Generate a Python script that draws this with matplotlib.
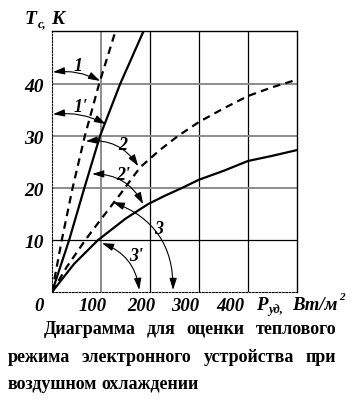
import numpy as np
import matplotlib.pyplot as plt

# curves: P (W/m^2) vs T (K)
p_1d = [0, 20, 42, 67, 96, 129]          # steep dashed
t_1d = [0, 10, 20, 30, 40, 50]
p_1s = [0, 35, 66, 98, 139, 186]         # steep solid
t_1s = [0, 10, 20, 30, 40, 50]
p_2d = [0, 30, 68, 100, 140, 180, 220, 257, 300, 350, 400, 450, 495]
t_2d = [0, 4.8, 10, 14.0, 18.9, 24.0, 27.3, 30.0, 32.7, 35.3, 37.7, 39.4, 40.7]
p_3s = [0, 45, 94, 150, 196, 230, 265, 300, 350, 400, 450, 500]
t_3s = [0, 5.4, 10, 14.1, 16.9, 18.5, 20.0, 21.6, 23.3, 25.2, 26.2, 27.3]

# annotation arcs: label, start, end, label position, bend
arrows = [
    ("1",  (2, 42.3), (98, 40.6), (54, 43.6), -0.15),
    ("1'", (2, 34.2), (110, 32.3), (58, 35.6), -0.15),
    ("2",  (69, 29.0), (176, 24.2), (144, 28.3), -0.3),
    ("2'", (82, 22.7), (186, 16.9), (146, 22.6), -0.3),
    ("3",  (124, 17.3), (247, 0.4), (217, 12.2), -0.35),
    ("3'", (102, 9.4), (178, 0.4), (172, 7.0), -0.3),
]

xlabels = ["0", "100", "200", "300", "400"]
xlabel_pos = [-27, 82, 182, 271, 365]

caption = [
    "Диаграмма для оценки теплового",
    "режима электронного устройства при",
    "воздушном охлаждении",
]

W, H = 362, 402
fig = plt.figure(figsize=(W / 100, H / 100), dpi=100)
ax = fig.add_axes([52 / W, 1 - 293 / H, 245 / W, 261 / H])

def px(x, y):
    return x / W, 1 - y / H

serif = 'Liberation Serif'
bi = dict(family=serif, weight='bold', style='italic')

ax.set_xlim(0, 500)
ax.set_ylim(0, 50.2)

# grid drawn by hand, some lines grey and some black
grey = '#8c8c8c'
for x, c in [(100, grey), (200, 'black'), (300, 'black'), (400, 'black')]:
    ax.axvline(x, color=c, lw=1.4 if c == grey else 0.9, zorder=1)
for y, c in [(10, 'black'), (20, grey), (30, grey), (40, grey)]:
    ax.axhline(y, color=c, lw=1.4 if c == grey else 0.9, zorder=1)

ax.plot(p_1d, t_1d, color='black', lw=1.6, dashes=(3.4, 2.4), zorder=3)
ax.plot(p_1s, t_1s, color='black', lw=1.6, zorder=3)
ax.plot(p_2d, t_2d, color='black', lw=1.6, dashes=(3.4, 2.4), zorder=3)
ax.plot(p_3s, t_3s, color='black', lw=1.6, zorder=3)

for lab, a, b, tp, rad in arrows:
    ax.annotate('', xy=b, xytext=a,
                arrowprops=dict(arrowstyle='<|-|>,head_length=0.7,head_width=0.22',
                                connectionstyle='arc3,rad=%g' % rad,
                                color='black', lw=0.8, shrinkA=0, shrinkB=0),
                zorder=4)
    ax.text(tp[0], tp[1], lab, fontsize=13, ha='center', va='center', zorder=5, **bi)

for s in ['top', 'right']:
    ax.spines[s].set_linewidth(1.0)
for s in ['left', 'bottom']:
    ax.spines[s].set_linestyle((0, (1.5, 1.5)))
    ax.spines[s].set_linewidth(0.8)

ax.set_xticks([])
ax.set_yticks([10, 20, 30, 40])
ax.set_yticklabels(['10', '20', '30', '40'], fontsize=14, **bi)
ax.tick_params(axis='y', length=0, pad=6)

for lab, x in zip(xlabels, xlabel_pos):
    ax.text(x, -0.05, lab, transform=ax.get_xaxis_transform(), fontsize=13.5,
            ha='center', va='center', **bi)

# axis titles
fig.text(*px(256, 306), 'P', fontsize=13.5, ha='left', va='center', **bi)
fig.text(*px(268, 310), 'уд,', fontsize=9, ha='left', va='center', **bi)
fig.text(*px(292, 306), 'Вт/м', fontsize=13.5, ha='left', va='center', **bi)
fig.text(*px(339, 298), '2', fontsize=8, ha='left', va='center', **bi)
fig.text(*px(25, 20), 'T', fontsize=14, ha='left', va='center', **bi)
fig.text(*px(38, 24), 'с,', fontsize=9, ha='left', va='center', **bi)
fig.text(*px(51, 20), 'K', fontsize=14, ha='left', va='center', **bi)

# caption, justified by measuring each word
cap = dict(family=serif, weight='bold', fontsize=13, va='baseline', ha='left')
renderer = fig.canvas.get_renderer()
lines_y = [334, 362, 389]
left = [44, 8, 8]
right = 336
for i, line in enumerate(caption):
    words = line.split()
    texts = [fig.text(0, 0, w, **cap) for w in words]
    widths = [t.get_window_extent(renderer).width for t in texts]
    if i < len(caption) - 1:
        gap = (right - left[i] - sum(widths)) / (len(words) - 1)
    else:
        gap = 4
    x = left[i]
    for t, w in zip(texts, widths):
        t.set_position(px(x, lines_y[i]))
        x += w + gap

fig.savefig('out.png', dpi=100)
